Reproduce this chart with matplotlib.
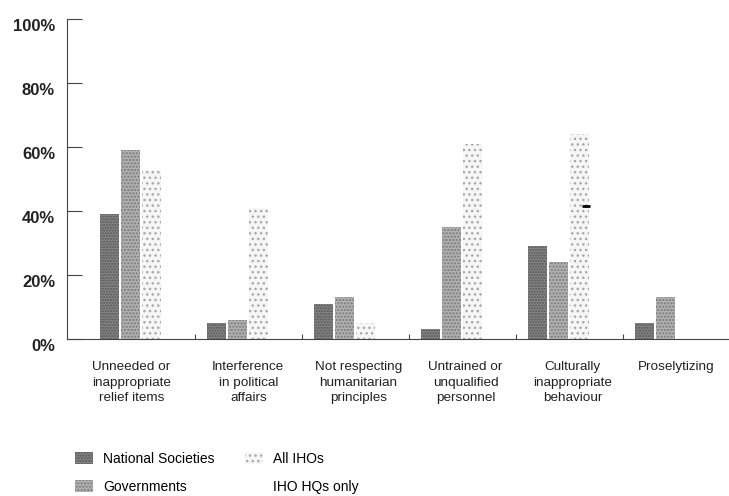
import numpy as np
import matplotlib
matplotlib.use('Agg')
import matplotlib.pyplot as plt
from matplotlib.patches import Patch
from matplotlib.transforms import ScaledTranslation

plt.rcParams['font.family'] = ['Liberation Sans', 'DejaVu Sans']
plt.rcParams['hatch.linewidth'] = 1.0

categories = ['Unneeded or\ninappropriate\nrelief items',
              'Interference\nin political\naffairs',
              'Not respecting\nhumanitarian\nprinciples',
              'Untrained or\nunqualified\npersonnel',
              'Culturally\ninappropriate\nbehaviour',
              'Proselytizing']
national_societies = [39, 5, 11, 3, 29, 5]
governments = [59, 6, 13, 35, 24, 13]
all_ihos = [53, 41, 5, 61, 64, 0]
iho_hqs_only = [np.nan, np.nan, np.nan, np.nan, 41.5, np.nan]
yticks = [0, 20, 40, 60, 80, 100]
ytick_labels = ['0%', '20%', '40%', '60%', '80%', '100%']

# layout (group units)
label_shift = [0.01, 0.1, 0.13, 0.13, 0.13, 0.1]
step = 0.2
width = 0.178

fig = plt.figure(figsize=(7.29, 4.96), dpi=100)
ax = fig.add_axes([0.0919, 0.3165, 0.9081, 0.6445])

x = np.arange(len(categories))
ax.bar(x - step, national_societies, width, color='#858585', edgecolor='#555555',
       hatch='......', linewidth=0)
ax.bar(x, governments, width, color='#b0b0b0', edgecolor='#7a7a7a',
       hatch='.....', linewidth=0)
ax.bar(x + step, all_ihos, width, color='#f6f6f6', edgecolor='#a8a8a8',
       hatch='...', linewidth=0)
ax.plot(x + step + 0.06, iho_hqs_only, linestyle='none', marker='_',
        markersize=6, markeredgewidth=2, color='black')

ax.set_xlim(-0.594, 5.593)
ax.set_ylim(0, 100)

for s in ['top', 'right']:
    ax.spines[s].set_visible(False)
for s in ['left', 'bottom']:
    ax.spines[s].set_color('#444444')
    ax.spines[s].set_linewidth(0.8)

ax.set_yticks(yticks)
ax.set_yticklabels(ytick_labels, fontsize=12, fontweight='bold', color='#222222')
ax.tick_params(axis='y', direction='in', length=10.8, width=0.8, color='#444444', pad=8.6)
off = ScaledTranslation(0, -6 / 100, fig.dpi_scale_trans)
for lab in ax.get_yticklabels():
    lab.set_transform(lab.get_transform() + off)

ax.set_xticks(x + np.array(label_shift))
ax.set_xticklabels(categories, fontsize=9.7, color='#222222', linespacing=1.4)
ax.tick_params(axis='x', which='major', length=0, pad=16)
ax.set_xticks(x[:-1] + 0.6, minor=True)
ax.tick_params(axis='x', which='minor', direction='in', length=3.6, width=0.8, color='#444444')

handles = [Patch(facecolor='#858585', edgecolor='#555555', hatch='......', linewidth=0),
           Patch(facecolor='#b0b0b0', edgecolor='#7a7a7a', hatch='.....', linewidth=0),
           Patch(facecolor='#f6f6f6', edgecolor='#a8a8a8', hatch='...', linewidth=0),
           Patch(facecolor='white', edgecolor='white', linewidth=0)]
labels = ['National Societies', 'Governments', 'All IHOs', 'IHO HQs only']
fig.legend(handles, labels, ncol=2, loc='upper left', bbox_to_anchor=(0.103, 0.089),
           frameon=False, fontsize=10, borderpad=0, borderaxespad=0,
           handlelength=1.3, handleheight=0.94, handletextpad=0.72,
           columnspacing=2.2, labelspacing=0.99)

fig.savefig('out.png', dpi=100)
